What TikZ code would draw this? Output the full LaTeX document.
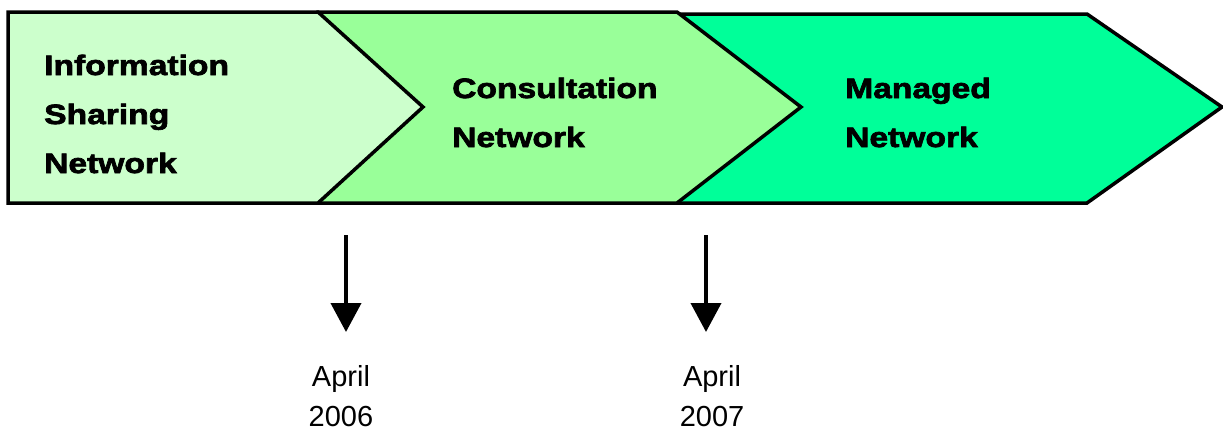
\documentclass[tikz,border=0pt]{standalone}
\usepackage{fontspec}
\setmainfont{Liberation Sans}
\newfontfamily\stagefont[FakeStretch=1.2,FakeBold=2.5]{Liberation Sans Bold}
\usetikzlibrary{arrows.meta}
\definecolor{infogreen}{HTML}{CCFFCC}
\definecolor{consultgreen}{HTML}{99FF99}
\definecolor{managedgreen}{HTML}{00FF99}
\tikzset{stage/.style={draw=black, line width=3.5pt, line join=miter},
%bold labels inside the chevrons, anchored at the last line
stagetext/.style={font=\stagefont\fontsize{28}{49}\selectfont, align=left, inner sep=0pt, anchor=base west},
milestone/.style={line width=4pt, -{Triangle[width=30pt,length=29pt]}},
datetext/.style={font=\fontsize{29}{40}\selectfont, align=center, inner sep=0pt, anchor=base}}

\begin{document}
\begin{tikzpicture}[x=1pt,y=-1pt]
\useasboundingbox (0,0) rectangle (1223,432);
% chevrons, drawn from the last to the first
\draw[stage,fill=managedgreen] (677,14) -- (1087,14) -- (1222,107) -- (1087,203) -- (677,203) -- cycle;
\draw[stage,fill=consultgreen] (318,12) -- (677,12) -- (801,107) -- (677,203) -- (318,203) -- cycle;
\draw[stage,fill=infogreen] (8,12) -- (318,12) -- (423,107) -- (318,203) -- (8,203) -- cycle;

%labels
\node[stagetext] (info) at (44,173) {Information\\Sharing\\Network};
\node[stagetext] (consult) at (452,147) {Consultation\\Network};
\node[stagetext] (managed) at (845,147) {Managed\\Network};

% milestones
\coordinate (top06) at (346,235);
\coordinate (tip06) at (346,332);
\coordinate (top07) at (706,235);
\coordinate (tip07) at (706,332);
\draw[milestone] (top06) -- (tip06);
\draw[milestone] (top07) -- (tip07);

\node[datetext] (apr06) at (341,426) {April\\2006};
\node[datetext] (apr07) at (712,426) {April\\2007};

\end{tikzpicture}
\end{document}
